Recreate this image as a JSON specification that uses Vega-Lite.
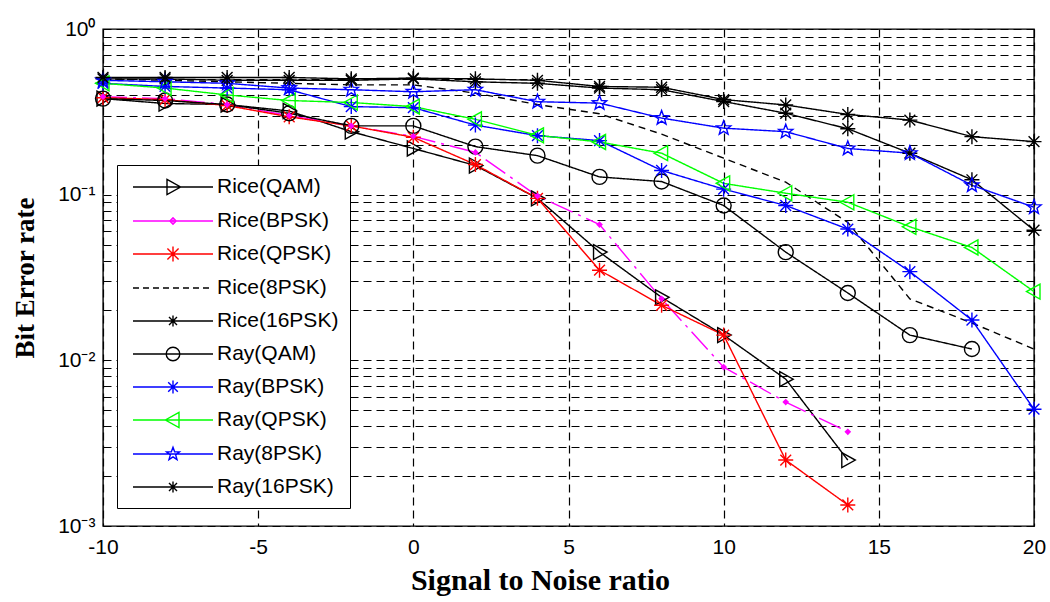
{
  "$schema": "https://vega.github.io/schema/vega-lite/v6.json",
  "width": 931,
  "height": 497,
  "autosize": "none",
  "padding": {"left": 103, "top": 29, "right": 16, "bottom": 76},
  "background": "white",
  "config": {
    "view": {"stroke": "#000", "strokeWidth": 1.4},
    "axis": {
      "labelFont": "Liberation Sans", "labelFontSize": 21, "labelColor": "#000",
      "titleFont": "Liberation Serif", "titleFontWeight": "bold", "titleFontSize": 27, "titleColor": "#000",
      "grid": true, "gridColor": "#000", "gridDash": [8, 5], "gridWidth": 1.2, "gridOpacity": 1,
      "domain": false, "ticks": false
    }
  },
  "data": {"values": [
    {"s":"Rice(QAM)","x":-10,"y":0.38},{"s":"Rice(QAM)","x":-8,"y":0.355},{"s":"Rice(QAM)","x":-6,"y":0.35},{"s":"Rice(QAM)","x":-4,"y":0.32},{"s":"Rice(QAM)","x":-2,"y":0.24},{"s":"Rice(QAM)","x":0,"y":0.19},{"s":"Rice(QAM)","x":2,"y":0.15},{"s":"Rice(QAM)","x":4,"y":0.095},{"s":"Rice(QAM)","x":6,"y":0.045},{"s":"Rice(QAM)","x":8,"y":0.024},{"s":"Rice(QAM)","x":10,"y":0.0142},{"s":"Rice(QAM)","x":12,"y":0.0077},{"s":"Rice(QAM)","x":14,"y":0.0025},
    {"s":"Rice(BPSK)","x":-10,"y":0.39},{"s":"Rice(BPSK)","x":-8,"y":0.38},{"s":"Rice(BPSK)","x":-6,"y":0.35},{"s":"Rice(BPSK)","x":-4,"y":0.3},{"s":"Rice(BPSK)","x":-2,"y":0.26},{"s":"Rice(BPSK)","x":0,"y":0.225},{"s":"Rice(BPSK)","x":2,"y":0.18},{"s":"Rice(BPSK)","x":4,"y":0.098},{"s":"Rice(BPSK)","x":6,"y":0.066},{"s":"Rice(BPSK)","x":8,"y":0.0235},{"s":"Rice(BPSK)","x":10,"y":0.0091},{"s":"Rice(BPSK)","x":12,"y":0.0056},{"s":"Rice(BPSK)","x":14,"y":0.0037},
    {"s":"Rice(QPSK)","x":-10,"y":0.385},{"s":"Rice(QPSK)","x":-8,"y":0.375},{"s":"Rice(QPSK)","x":-6,"y":0.345},{"s":"Rice(QPSK)","x":-4,"y":0.295},{"s":"Rice(QPSK)","x":-2,"y":0.26},{"s":"Rice(QPSK)","x":0,"y":0.222},{"s":"Rice(QPSK)","x":2,"y":0.152},{"s":"Rice(QPSK)","x":4,"y":0.095},{"s":"Rice(QPSK)","x":6,"y":0.035},{"s":"Rice(QPSK)","x":8,"y":0.0215},{"s":"Rice(QPSK)","x":10,"y":0.0142},{"s":"Rice(QPSK)","x":12,"y":0.0025},{"s":"Rice(QPSK)","x":14,"y":0.00134},
    {"s":"Rice(8PSK)","x":-10,"y":0.5},{"s":"Rice(8PSK)","x":-8,"y":0.49},{"s":"Rice(8PSK)","x":-6,"y":0.48},{"s":"Rice(8PSK)","x":-4,"y":0.47},{"s":"Rice(8PSK)","x":-2,"y":0.46},{"s":"Rice(8PSK)","x":0,"y":0.46},{"s":"Rice(8PSK)","x":2,"y":0.41},{"s":"Rice(8PSK)","x":4,"y":0.35},{"s":"Rice(8PSK)","x":6,"y":0.308},{"s":"Rice(8PSK)","x":8,"y":0.232},{"s":"Rice(8PSK)","x":10,"y":0.166},{"s":"Rice(8PSK)","x":12,"y":0.119},{"s":"Rice(8PSK)","x":14,"y":0.068},{"s":"Rice(8PSK)","x":16,"y":0.0235},{"s":"Rice(8PSK)","x":18,"y":0.0168},{"s":"Rice(8PSK)","x":20,"y":0.0117},
    {"s":"Rice(16PSK)","x":-10,"y":0.5},{"s":"Rice(16PSK)","x":-8,"y":0.5},{"s":"Rice(16PSK)","x":-6,"y":0.49},{"s":"Rice(16PSK)","x":-4,"y":0.49},{"s":"Rice(16PSK)","x":-2,"y":0.49},{"s":"Rice(16PSK)","x":0,"y":0.5},{"s":"Rice(16PSK)","x":2,"y":0.48},{"s":"Rice(16PSK)","x":4,"y":0.47},{"s":"Rice(16PSK)","x":6,"y":0.44},{"s":"Rice(16PSK)","x":8,"y":0.43},{"s":"Rice(16PSK)","x":10,"y":0.365},{"s":"Rice(16PSK)","x":12,"y":0.31},{"s":"Rice(16PSK)","x":14,"y":0.25},{"s":"Rice(16PSK)","x":16,"y":0.178},{"s":"Rice(16PSK)","x":18,"y":0.123},{"s":"Rice(16PSK)","x":20,"y":0.061},
    {"s":"Ray(QAM)","x":-10,"y":0.38},{"s":"Ray(QAM)","x":-8,"y":0.37},{"s":"Ray(QAM)","x":-6,"y":0.35},{"s":"Ray(QAM)","x":-4,"y":0.31},{"s":"Ray(QAM)","x":-2,"y":0.26},{"s":"Ray(QAM)","x":0,"y":0.26},{"s":"Ray(QAM)","x":2,"y":0.195},{"s":"Ray(QAM)","x":4,"y":0.172},{"s":"Ray(QAM)","x":6,"y":0.128},{"s":"Ray(QAM)","x":8,"y":0.12},{"s":"Ray(QAM)","x":10,"y":0.086},{"s":"Ray(QAM)","x":12,"y":0.045},{"s":"Ray(QAM)","x":14,"y":0.0255},{"s":"Ray(QAM)","x":16,"y":0.0142},{"s":"Ray(QAM)","x":18,"y":0.0117},
    {"s":"Ray(BPSK)","x":-10,"y":0.47},{"s":"Ray(BPSK)","x":-8,"y":0.45},{"s":"Ray(BPSK)","x":-6,"y":0.44},{"s":"Ray(BPSK)","x":-4,"y":0.43},{"s":"Ray(BPSK)","x":-2,"y":0.34},{"s":"Ray(BPSK)","x":0,"y":0.335},{"s":"Ray(BPSK)","x":2,"y":0.263},{"s":"Ray(BPSK)","x":4,"y":0.227},{"s":"Ray(BPSK)","x":6,"y":0.212},{"s":"Ray(BPSK)","x":8,"y":0.14},{"s":"Ray(BPSK)","x":10,"y":0.108},{"s":"Ray(BPSK)","x":12,"y":0.086},{"s":"Ray(BPSK)","x":14,"y":0.062},{"s":"Ray(BPSK)","x":16,"y":0.0343},{"s":"Ray(BPSK)","x":18,"y":0.0175},{"s":"Ray(BPSK)","x":20,"y":0.00507},
    {"s":"Ray(QPSK)","x":-10,"y":0.47},{"s":"Ray(QPSK)","x":-8,"y":0.44},{"s":"Ray(QPSK)","x":-6,"y":0.4},{"s":"Ray(QPSK)","x":-4,"y":0.37},{"s":"Ray(QPSK)","x":-2,"y":0.36},{"s":"Ray(QPSK)","x":0,"y":0.34},{"s":"Ray(QPSK)","x":2,"y":0.285},{"s":"Ray(QPSK)","x":4,"y":0.228},{"s":"Ray(QPSK)","x":6,"y":0.208},{"s":"Ray(QPSK)","x":8,"y":0.178},{"s":"Ray(QPSK)","x":10,"y":0.117},{"s":"Ray(QPSK)","x":12,"y":0.102},{"s":"Ray(QPSK)","x":14,"y":0.09},{"s":"Ray(QPSK)","x":16,"y":0.064},{"s":"Ray(QPSK)","x":18,"y":0.048},{"s":"Ray(QPSK)","x":20,"y":0.026},
    {"s":"Ray(8PSK)","x":-10,"y":0.49},{"s":"Ray(8PSK)","x":-8,"y":0.48},{"s":"Ray(8PSK)","x":-6,"y":0.47},{"s":"Ray(8PSK)","x":-4,"y":0.44},{"s":"Ray(8PSK)","x":-2,"y":0.43},{"s":"Ray(8PSK)","x":0,"y":0.418},{"s":"Ray(8PSK)","x":2,"y":0.43},{"s":"Ray(8PSK)","x":4,"y":0.364},{"s":"Ray(8PSK)","x":6,"y":0.357},{"s":"Ray(8PSK)","x":8,"y":0.29},{"s":"Ray(8PSK)","x":10,"y":0.252},{"s":"Ray(8PSK)","x":12,"y":0.24},{"s":"Ray(8PSK)","x":14,"y":0.19},{"s":"Ray(8PSK)","x":16,"y":0.178},{"s":"Ray(8PSK)","x":18,"y":0.114},{"s":"Ray(8PSK)","x":20,"y":0.084},
    {"s":"Ray(16PSK)","x":-10,"y":0.51},{"s":"Ray(16PSK)","x":-8,"y":0.51},{"s":"Ray(16PSK)","x":-6,"y":0.51},{"s":"Ray(16PSK)","x":-4,"y":0.51},{"s":"Ray(16PSK)","x":-2,"y":0.5},{"s":"Ray(16PSK)","x":0,"y":0.505},{"s":"Ray(16PSK)","x":2,"y":0.5},{"s":"Ray(16PSK)","x":4,"y":0.49},{"s":"Ray(16PSK)","x":6,"y":0.45},{"s":"Ray(16PSK)","x":8,"y":0.445},{"s":"Ray(16PSK)","x":10,"y":0.375},{"s":"Ray(16PSK)","x":12,"y":0.348},{"s":"Ray(16PSK)","x":14,"y":0.305},{"s":"Ray(16PSK)","x":16,"y":0.282},{"s":"Ray(16PSK)","x":18,"y":0.224},{"s":"Ray(16PSK)","x":20,"y":0.209}
  ]},
  "resolve": {
    "scale": {"color": "independent", "shape": "independent", "strokeDash": "independent"},
    "legend": {"color": "independent", "shape": "independent", "strokeDash": "independent"}
  },
  "layer": [
    {
      "mark": {"type": "line", "strokeWidth": 1.4},
      "encoding": {
        "x": {"field": "x", "type": "quantitative",
              "scale": {"domain": [-10, 20], "nice": false, "zero": false},
              "axis": {"values": [-10, -5, 0, 5, 10, 15, 20], "title": "Signal to Noise ratio", "titleFontSize": 30, "titleX": 437, "titleAlign": "center", "labelPadding": 10, "titlePadding": 8, "labelFlush": false, "labelExpr": "datum.value < 0 ? '-' + abs(datum.value) : '' + datum.value"}},
        "y": {"field": "y", "type": "quantitative",
              "scale": {"type": "log", "domain": [0.001, 1], "nice": false},
              "axis": {"values": [0.001,0.002,0.003,0.004,0.005,0.006,0.007,0.008,0.009,0.01,0.02,0.03,0.04,0.05,0.06,0.07,0.08,0.09,0.1,0.2,0.3,0.4,0.5,0.6,0.7,0.8,0.9,1],
                       "labelExpr": "datum.value == 1 ? '10⁰' : datum.value == 0.1 ? '10⁻¹' : datum.value == 0.01 ? '10⁻²' : datum.value == 0.001 ? '10⁻³' : ''",
                       "labelOverlap": false, "labelFlush": false, "labelPadding": 8, "title": "Bit Error rate", "titlePadding": 18}},
        "color": {"field": "s", "type": "nominal", "legend": null,
                  "scale": {"domain": ["Rice(QAM)","Rice(BPSK)","Rice(QPSK)","Rice(8PSK)","Rice(16PSK)","Ray(QAM)","Ray(BPSK)","Ray(QPSK)","Ray(8PSK)","Ray(16PSK)"],
                            "range": ["#000000","#ff00ff","#ff0000","#000000","#000000","#000000","#0000ff","#00ff00","#0000ff","#000000"]}},
        "strokeDash": {"field": "s", "type": "nominal", "legend": null,
                  "scale": {"domain": ["Rice(QAM)","Rice(BPSK)","Rice(QPSK)","Rice(8PSK)","Rice(16PSK)","Ray(QAM)","Ray(BPSK)","Ray(QPSK)","Ray(8PSK)","Ray(16PSK)"],
                            "range": [[1,0],[24,6,3,6],[1,0],[7,5],[1,0],[1,0],[1,0],[1,0],[1,0],[1,0]]}}
      }
    },
    {
      "transform": [{"filter": "datum.s != 'Rice(BPSK)' && datum.s != 'Rice(8PSK)'"}],
      "mark": {"type": "point", "filled": false, "strokeWidth": 1.4, "size": 225, "opacity": 1},
      "encoding": {
        "x": {"field": "x", "type": "quantitative",
              "axis": {"values": [-10, -5, 0, 5, 10, 15, 20], "title": "Signal to Noise ratio", "titleFontSize": 30, "titleX": 437, "titleAlign": "center", "labelPadding": 10, "titlePadding": 8, "labelFlush": false, "labelExpr": "datum.value < 0 ? '-' + abs(datum.value) : '' + datum.value"}},
        "y": {"field": "y", "type": "quantitative",
              "axis": {"values": [0.001,0.002,0.003,0.004,0.005,0.006,0.007,0.008,0.009,0.01,0.02,0.03,0.04,0.05,0.06,0.07,0.08,0.09,0.1,0.2,0.3,0.4,0.5,0.6,0.7,0.8,0.9,1],
                       "labelExpr": "datum.value == 1 ? '10⁰' : datum.value == 0.1 ? '10⁻¹' : datum.value == 0.01 ? '10⁻²' : datum.value == 0.001 ? '10⁻³' : ''",
                       "labelOverlap": false, "labelFlush": false, "labelPadding": 8, "title": "Bit Error rate", "titlePadding": 18}},
        "color": {"field": "s", "type": "nominal", "legend": null,
                  "scale": {"domain": ["Rice(QAM)","Rice(BPSK)","Rice(QPSK)","Rice(8PSK)","Rice(16PSK)","Ray(QAM)","Ray(BPSK)","Ray(QPSK)","Ray(8PSK)","Ray(16PSK)"],
                            "range": ["#000000","#ff00ff","#ff0000","#000000","#000000","#000000","#0000ff","#00ff00","#0000ff","#000000"]}},
        "shape": {"field": "s", "type": "nominal", "legend": null,
                  "scale": {"domain": ["Rice(QAM)","Rice(BPSK)","Rice(QPSK)","Rice(8PSK)","Rice(16PSK)","Ray(QAM)","Ray(BPSK)","Ray(QPSK)","Ray(8PSK)","Ray(16PSK)"],
                            "range": [
                              "M-0.8,-1L1,0L-0.8,1Z",
                              "diamond",
                              "M-1,0H1M0,-1V1M-0.72,-0.72L0.72,0.72M-0.72,0.72L0.72,-0.72",
                              "circle",
                              "M-1,0H1M0,-1V1M-0.72,-0.72L0.72,0.72M-0.72,0.72L0.72,-0.72",
                              "M-1,0A1,1 0 1,0 1,0A1,1 0 1,0 -1,0Z",
                              "M-1,0H1M0,-1V1M-0.72,-0.72L0.72,0.72M-0.72,0.72L0.72,-0.72",
                              "M0.8,-1L-1,0L0.8,1Z",
                              "M0,-1L0.247,-0.34L0.951,-0.309L0.4,0.13L0.588,0.809L0,0.42L-0.588,0.809L-0.4,0.13L-0.951,-0.309L-0.247,-0.34Z",
                              "M-1,0H1M0,-1V1M-0.72,-0.72L0.72,0.72M-0.72,0.72L0.72,-0.72"
                            ]}}
      }
    },
    {
      "transform": [{"filter": "datum.s == 'Rice(BPSK)'"}],
      "mark": {"type": "point", "filled": true, "shape": "diamond", "size": 45, "color": "#ff00ff", "opacity": 1},
      "encoding": {
        "x": {"field": "x", "type": "quantitative",
              "axis": {"values": [-10, -5, 0, 5, 10, 15, 20], "title": "Signal to Noise ratio", "titleFontSize": 30, "titleX": 437, "titleAlign": "center", "labelPadding": 10, "titlePadding": 8, "labelFlush": false, "labelExpr": "datum.value < 0 ? '-' + abs(datum.value) : '' + datum.value"}},
        "y": {"field": "y", "type": "quantitative",
              "axis": {"values": [0.001,0.002,0.003,0.004,0.005,0.006,0.007,0.008,0.009,0.01,0.02,0.03,0.04,0.05,0.06,0.07,0.08,0.09,0.1,0.2,0.3,0.4,0.5,0.6,0.7,0.8,0.9,1],
                       "labelExpr": "datum.value == 1 ? '10⁰' : datum.value == 0.1 ? '10⁻¹' : datum.value == 0.01 ? '10⁻²' : datum.value == 0.001 ? '10⁻³' : ''",
                       "labelOverlap": false, "labelFlush": false, "labelPadding": 8, "title": "Bit Error rate", "titlePadding": 18}}
      }
    },
    {
      "transform": [{"filter": "datum.x > 1000"}],
      "mark": {"type": "point", "filled": false, "strokeWidth": 1.4, "opacity": 1},
      "encoding": {
        "x": {"field": "x", "type": "quantitative",
              "axis": {"values": [-10, -5, 0, 5, 10, 15, 20], "title": "Signal to Noise ratio", "titleFontSize": 30, "titleX": 437, "titleAlign": "center", "labelPadding": 10, "titlePadding": 8, "labelFlush": false, "labelExpr": "datum.value < 0 ? '-' + abs(datum.value) : '' + datum.value"}},
        "y": {"field": "y", "type": "quantitative",
              "axis": {"values": [0.001,0.002,0.003,0.004,0.005,0.006,0.007,0.008,0.009,0.01,0.02,0.03,0.04,0.05,0.06,0.07,0.08,0.09,0.1,0.2,0.3,0.4,0.5,0.6,0.7,0.8,0.9,1],
                       "labelExpr": "datum.value == 1 ? '10⁰' : datum.value == 0.1 ? '10⁻¹' : datum.value == 0.01 ? '10⁻²' : datum.value == 0.001 ? '10⁻³' : ''",
                       "labelOverlap": false, "labelFlush": false, "labelPadding": 8, "title": "Bit Error rate", "titlePadding": 18}},
        "color": {"field": "s", "type": "nominal",
                  "legend": {"orient": "none", "legendX": 14, "legendY": 136, "title": null, "strokeColor": "#000", "fillColor": "#fff", "padding": 11, "labelFont": "Liberation Sans", "labelFontSize": 21, "labelColor": "#000", "symbolSize": 400, "symbolStrokeWidth": 1.4, "rowPadding": 12, "labelOffset": 33, "symbolOffset": 34, "labelLimit": 300},
                  "scale": {"domain": ["Rice(QAM)","Rice(BPSK)","Rice(QPSK)","Rice(8PSK)","Rice(16PSK)","Ray(QAM)","Ray(BPSK)","Ray(QPSK)","Ray(8PSK)","Ray(16PSK)"],
                            "range": ["#000000","#ff00ff","#ff0000","#000000","#000000","#000000","#0000ff","#00ff00","#0000ff","#000000"]}},
        "shape": {"field": "s", "type": "nominal",
                  "legend": {"orient": "none", "legendX": 14, "legendY": 136, "title": null, "strokeColor": "#000", "fillColor": "#fff", "padding": 11, "labelFont": "Liberation Sans", "labelFontSize": 21, "labelColor": "#000", "symbolSize": 400, "symbolStrokeWidth": 1.4, "rowPadding": 12, "labelOffset": 33, "symbolOffset": 34, "labelLimit": 300},
                  "scale": {"domain": ["Rice(QAM)","Rice(BPSK)","Rice(QPSK)","Rice(8PSK)","Rice(16PSK)","Ray(QAM)","Ray(BPSK)","Ray(QPSK)","Ray(8PSK)","Ray(16PSK)"],
                            "range": [
                              "M-4,0H4M-0.6,-0.76L0.76,0L-0.6,0.76Z",
                              "M-4,0H4M-0.32,0L0,-0.32L0.32,0L0,0.32ZM-0.16,0H0.16M0,-0.16V0.16",
                              "M-4,0H4M0,-0.76V0.76M-0.56,-0.56L0.56,0.56M-0.56,0.56L0.56,-0.56",
                              "M-4,0H-3.4M-3,0H-2.4M-2,0H-1.4M-1,0H-0.4M0,0H0.6M1,0H1.6M2,0H2.6M3,0H3.6",
                              "M-4,0H4M0,-0.56V0.56M-0.4,-0.4L0.4,0.4M-0.4,0.4L0.4,-0.4",
                              "M-4,0H4M-0.68,0A0.68,0.68 0 1,0 0.68,0A0.68,0.68 0 1,0 -0.68,0Z",
                              "M-4,0H4M0,-0.64V0.64M-0.48,-0.48L0.48,0.48M-0.48,0.48L0.48,-0.48",
                              "M-4,0H4M0.6,-0.76L-0.76,0L0.6,0.76Z",
                              "M-4,0H4M0,-0.68L0.164,-0.228L0.648,-0.212L0.268,0.088L0.4,0.552L0,0.28L-0.4,0.552L-0.268,0.088L-0.648,-0.212L-0.164,-0.228Z",
                              "M-4,0H4M0,-0.56V0.56M-0.4,-0.4L0.4,0.4M-0.4,0.4L0.4,-0.4"
                            ]}}
      }
    }
  ]
}
